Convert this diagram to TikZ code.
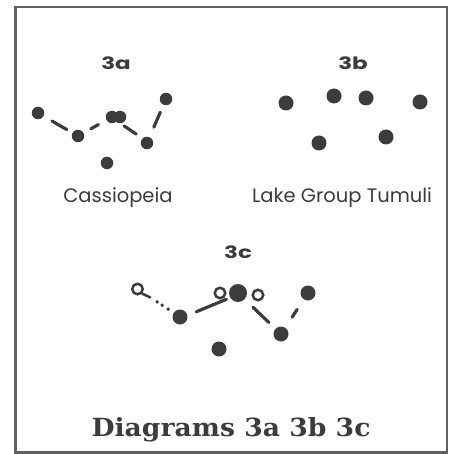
\documentclass[tikz,border=0pt]{standalone}
\usepackage{fontspec}
\setmainfont{DejaVu Serif}
\newfontfamily\labfont{Poppins}
\usetikzlibrary{calc}
\definecolor{ink}{HTML}{3C3C3C}
\definecolor{framec}{HTML}{606060}
\begin{document}
\begin{tikzpicture}[x=1pt,y=-1pt,
  dot/.style={circle,fill=ink,inner sep=0pt,minimum size=12.5pt},
  midot/.style={dot,minimum size=15pt},
  bigdot/.style={dot,minimum size=18pt},
  tinydot/.style={circle,fill=ink,inner sep=0pt,minimum size=3.8pt},
  ring/.style={circle,draw=ink,line width=2.5pt,inner sep=0pt,minimum size=10.5pt},
  dashln/.style={draw=ink,line width=3.2pt,line cap=round},
  head/.style={anchor=base,inner sep=0pt,xscale=1.35,font=\labfont\bfseries\fontsize{17}{17}\selectfont,text=ink},
  caption/.style={anchor=base,inner sep=0pt,font=\labfont\fontsize{19.5}{19.5}\selectfont,text=ink},
  titlestyle/.style={anchor=base,inner sep=0pt,xscale=1.065,font=\bfseries\fontsize{25}{25}\selectfont,text=ink}]
\useasboundingbox (0,0) rectangle (452,454);
\fill[white] (0,0) rectangle (452,454);
\draw[framec,line width=2.6pt] (15.5,7) rectangle (447,452.5);

% 3a
\node[head] (la) at (116,70) {3a};
\node[dot] (a1) at (38,113) {};
\node[dot] (a2) at (78,136) {};
\node[dot] (a3) at (112,117) {};
\node[dot] (a4) at (120,117) {};
\node[dot] (a5) at (147,143) {};
\node[dot] (a6) at (166,99) {};
\node[dot] (a7) at (107,163) {};
\draw[dashln] ($(a1)!0.35!(a2)$) -- ($(a1)!0.72!(a2)$);
\draw[dashln] ($(a2)!0.38!(a3)$) -- ($(a2)!0.6!(a3)$);
\draw[dashln] ($(a4)!0.15!(a5)+(0,5)$) -- ($(a4)!0.6!(a5)+(0,1.5)$);
\draw[dashln] ($(a5)!0.36!(a6)$) -- ($(a5)!0.7!(a6)$);
\node[caption] (ca) at (118,202.7) {Cassiopeia};

% 3b
\node[head] (lb) at (353,69.5) {3b};
\node[midot] (b1) at (286,103) {};
\node[midot] (b2) at (334,96) {};
\node[midot] (b3) at (366,98) {};
\node[midot] (b4) at (420,102) {};
\node[midot] (b5) at (319,143) {};
\node[midot] (b6) at (386,137) {};
\node[caption] (cb) at (342,202.7) {Lake Group Tumuli};

% 3c
\node[head] (lc) at (238,258.3) {3c};
\node[ring] (c1) at (137.5,289) {};
\node[midot] (c2) at (180,317) {};
\node[ring] (c3) at (220,293) {};
\node[bigdot] (c4) at (238,293) {};
\node[ring] (c5) at (258,295) {};
\node[midot] (c6) at (281,334) {};
\node[midot] (c7) at (308,293) {};
\node[midot] (c8) at (219,349) {};
\draw[dashln,line width=2.5pt] (c1.south east) -- ($(c1)!0.3!(c2)$);
\node[tinydot] (d1) at ($(c1)!0.46!(c2)$) {};
\node[tinydot] (d2) at ($(c1)!0.58!(c2)$) {};
\node[tinydot] (d3) at ($(c1)!0.72!(c2)$) {};
\draw[dashln] ($(c2)!0.28!(c4)+(0,1.5)$) -- ($(c2)!0.8!(c4)+(0,1.5)$);
\draw[dashln] ($(c4)!0.35!(c6)$) -- ($(c4)!0.72!(c6)$);
\draw[dashln] ($(c6)!0.41!(c7)$) -- ($(c6)!0.6!(c7)$);

% title
\node[titlestyle] (title) at (231,436.7) {Diagrams 3a 3b 3c};
\end{tikzpicture}
\end{document}
